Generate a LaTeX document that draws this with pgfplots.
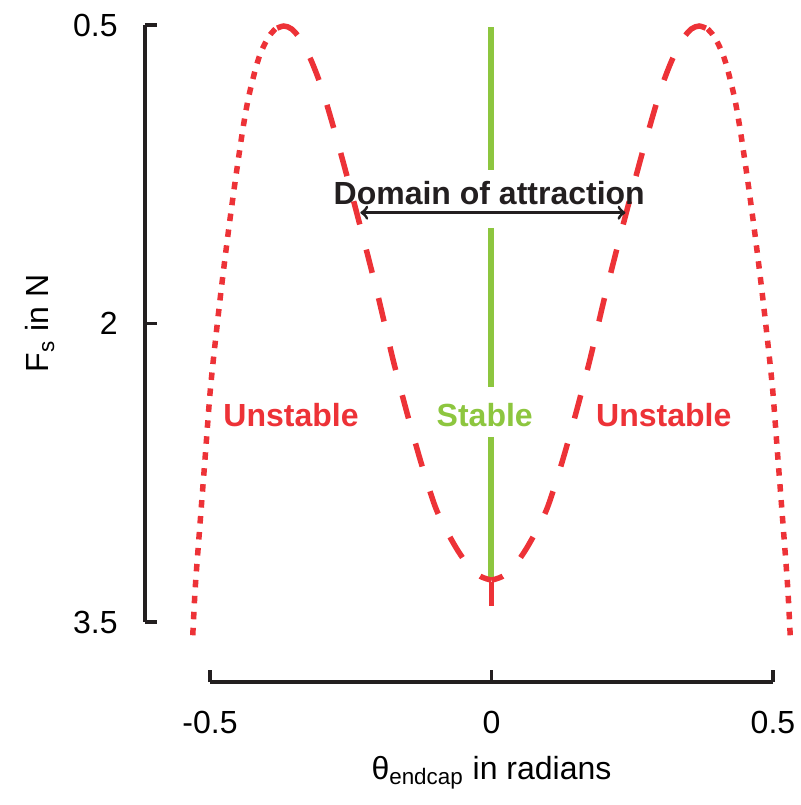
\documentclass[border=0pt]{standalone}
\usepackage{pgfplots}
\pgfplotsset{compat=1.18}
\usepackage{fontspec}
\setmainfont{Liberation Sans}
\definecolor{axgray}{RGB}{35,31,32}
\definecolor{myred}{RGB}{237,50,55}
\definecolor{mygreen}{RGB}{141,198,63}
\pgfplotstableread{
x y
0 3.29
-0.02 3.27
-0.04 3.22
-0.06 3.14
-0.08 3.04
-0.10 2.92
-0.125 2.70
-0.15 2.45
-0.175 2.18
-0.2 1.88
-0.225 1.60
-0.25 1.33
-0.275 1.07
-0.30 0.83
-0.32 0.68
-0.34 0.57
-0.355 0.52
-0.369 0.505
-0.384 0.52
}\leftdashed
\pgfplotstableread{
x y
0 3.29
0.02 3.27
0.04 3.22
0.06 3.14
0.08 3.04
0.10 2.92
0.125 2.70
0.15 2.45
0.175 2.18
0.2 1.88
0.225 1.60
0.25 1.33
0.275 1.07
0.30 0.83
0.32 0.68
0.34 0.57
0.355 0.52
0.369 0.505
0.384 0.52
}\rightdashed
\pgfplotstableread{
x y
-0.384 0.52
-0.396 0.56
-0.41 0.64
-0.42 0.73
-0.432 0.87
-0.442 1.03
-0.455 1.28
-0.467 1.53
-0.478 1.78
-0.487 2.00
-0.499 2.32
-0.508 2.65
-0.517 2.98
-0.526 3.32
-0.531 3.59
}\leftdotted
\pgfplotstableread{
x y
0.384 0.52
0.396 0.56
0.41 0.64
0.42 0.73
0.432 0.87
0.442 1.03
0.455 1.28
0.467 1.53
0.478 1.78
0.487 2.00
0.499 2.32
0.508 2.65
0.517 2.98
0.526 3.32
0.531 3.59
}\rightdotted
\begin{document}
\begin{tikzpicture}
\begin{axis}[
  scale only axis, width=281.5pt, height=298.5pt,
  xmin=-0.5, xmax=0.5, ymin=0.5, ymax=3.5, y dir=reverse,
  clip=false,
  axis x line=bottom, axis y line=left,
  axis x line shift=30pt, axis y line shift=32.5pt,
  axis line style={-, line width=1.6pt, draw=axgray},
  xtick={-0.5,0,0.5}, xticklabels={-0.5,0,0.5},
  ytick={0.5,2,3.5}, yticklabels={0.5,2,3.5},
  tick align=inside, major tick length=6pt,
  tick style={line width=1.6pt, draw=axgray},
  tick label style={font=\fontsize{16}{19}\selectfont, text=black, inner sep=0pt},
  xticklabel style={anchor=north, yshift=-14.5pt},
  yticklabel style={anchor=east, xshift=-13.5pt},
  xlabel={θ\textsubscript{endcap} in radians},
  ylabel={F\textsubscript{s} in N},
  label style={font=\fontsize{16}{19}\selectfont, text=black},
  xlabel style={at={(axis description cs:0.5,-0.252)}, anchor=center},
  ylabel style={at={(axis description cs:-0.302,0.5)}, anchor=center},
]
\addplot[mygreen, line width=3pt] coordinates {(0,0.51) (0,1.23)};
\addplot[mygreen, line width=3pt] coordinates {(0,1.52) (0,2.32)};
\addplot[mygreen, line width=3pt] coordinates {(0,2.57) (0,3.28)};
\addplot[myred, line width=2.75pt, smooth, dash pattern=on 3.75pt off 4.25pt] table {\leftdotted};
\addplot[myred, line width=2.75pt, smooth, dash pattern=on 3.75pt off 4.25pt] table {\rightdotted};
\addplot[myred, line width=2.75pt, smooth, dash pattern=on 12pt off 13pt, dash phase=6pt] table {\leftdashed};
\addplot[myred, line width=2.75pt, smooth, dash pattern=on 12pt off 13pt, dash phase=6pt] table {\rightdashed};
\addplot[myred, line width=2.75pt] coordinates {(0,3.30) (0,3.42)};
\node[font=\fontsize{16}{19}\selectfont\bfseries, text=axgray] at (axis cs:-0.004,1.345) {Domain of attraction};
\draw[<->, >=to, line width=1.5pt, axgray] (axis cs:-0.233,1.443) -- (axis cs:0.238,1.443);
\node[font=\fontsize{16}{19}\selectfont\bfseries, text=myred] at (axis cs:-0.356,2.46) {Unstable};
\node[font=\fontsize{16}{19}\selectfont\bfseries, text=myred] at (axis cs:0.306,2.46) {Unstable};
\node[font=\fontsize{16}{19}\selectfont\bfseries, text=mygreen] at (axis cs:-0.012,2.46) {Stable};
\coordinate (BL) at (axis cs:-0.5,3.5);
\end{axis}
\pgfresetboundingbox
\path[use as bounding box] (BL) ++(-105pt,-91.5pt) rectangle ++(400.5pt,402.5pt);
\end{tikzpicture}
\end{document}
